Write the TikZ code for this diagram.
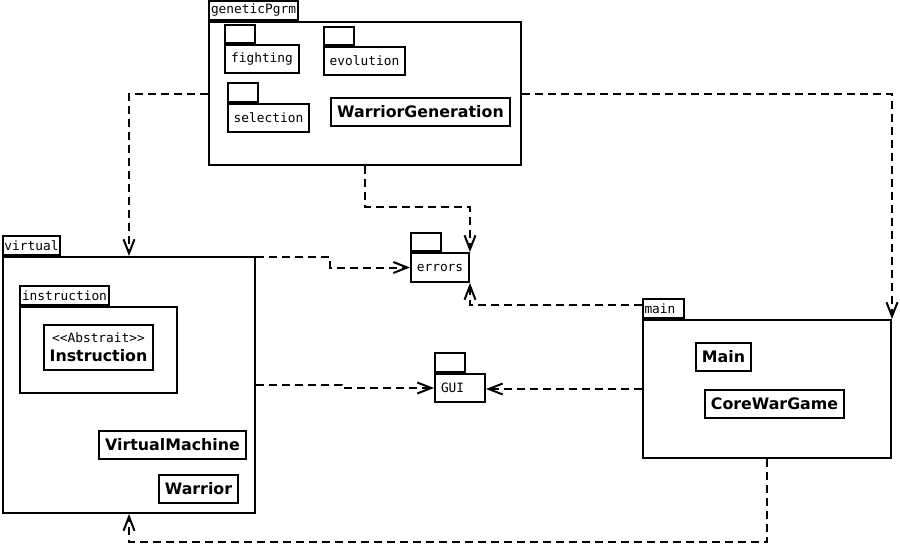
\documentclass[tikz,border=0pt]{standalone}
\usepackage{fontspec}
\usetikzlibrary{arrows.meta,positioning,calc}
\newfontfamily\monofont{DejaVu Sans Mono}[Ligatures=TeXOff]
\newfontfamily\clsfont{DejaVu Sans}
\def \mon {\monofont\mdseries\fontsize{7.3}{8.6}\selectfont}
\def \cls {\clsfont\bfseries\fontsize{9}{10.8}\selectfont}

\tikzset{
  wh/.style 2 args={minimum width=#1*0.2mm, minimum height=#2*0.2mm},
  pkg/.style={draw, line width=0.4mm, inner sep=0pt, anchor=north west},
  tab/.style={draw, line width=0.4mm, inner xsep=0.3mm, inner ysep=0pt,
    minimum height=3.8mm, anchor=south west, font=\mon},
  cls/.style={draw, line width=0.4mm, inner sep=0pt, anchor=north west, font=\cls},
  dep/.style={line width=0.4mm, dash pattern=on 1.6mm off 1mm,
    -{Straight Barb[length=2.8mm, width=2.2mm]}},
}

\begin{document}
\begin{tikzpicture}[x=0.2mm, y=-0.2mm]
        \useasboundingbox (0,0) rectangle (900,559);

        % geneticPgrm
        \node[pkg, wh={312}{143}] (genetic) at (208,21) {};
        \node[tab, wh={89}{19}] (genetictab) at (genetic.north west) {\mon geneticPgrm};

        \node[pkg, wh={74}{28}, font=\mon] (fighting) at (224,44) {fighting};
        \node[tab, wh={30}{18}] (fightingtab) at (fighting.north west) {};

        \node[pkg, wh={81}{28}, font=\mon] (evolution) at (323,46) {evolution};
        \node[tab, wh={30}{18}] (evolutiontab) at (evolution.north west) {};

        \node[pkg, wh={81}{28}, font=\mon] (selection) at (227,103) {selection};
        \node[tab, wh={30}{19}] (selectiontab) at (selection.north west) {};

        \node[cls, wh={179}{28}] (warriorgen) at (330,97) {WarriorGeneration};

        % virtual
        \node[pkg, wh={252}{256}] (virtual) at (2,256) {};
        \node[tab, wh={57}{19}] (virtualtab) at (virtual.north west) {virtual};

        \node[pkg, wh={157}{86}] (instruction) at (19,306) {};
        \node[tab, wh={89}{19}] (instructiontab) at (instruction.north west) {instruction};
        \node[cls, wh={109}{45}, align=center] (instr) at (43,324)
            {{\mon <<Abstrait>>}\\Instruction};

        \node[cls, wh={147}{28}] (vm) at (98,430) {VirtualMachine};
        \node[cls, wh={79}{28}] (warrior) at (158,474) {Warrior};

        % errors and GUI
        \node[pkg, wh={58}{29}, font=\mon] (errors) at (410,252) {errors};
        \node[tab, wh={30}{18}] (errorstab) at (errors.north west) {};

        \node[pkg, wh={50}{28}, font=\mon, text width=7.6mm, inner xsep=1.2mm,
            align=left] (gui) at (434,373) {GUI};
        \node[tab, wh={30}{19}] (guitab) at (gui.north west) {};

        % main
        \node[pkg, wh={248}{138}] (main) at (642,319) {};
        \node[tab, wh={40}{19}, text width=7.5mm, align=left] (maintab) at (main.north west) {main};

        \node[cls, wh={55}{28}] (mainc) at (695,342) {Main};
        \node[cls, wh={139}{28}] (corewar) at (704,389) {CoreWarGame};

        % Dependencies
        % geneticPgrm -> virtual
        \draw[dep] (genetic.west) -| (virtual.north);

        % geneticPgrm -> main
        \draw[dep] (genetic.east) -| (main.north east);

        % geneticPgrm -> errors
        \draw[dep] (genetic.south) -- ++(0,41) -| (errors.north east);

        % virtual -> errors
        \draw[dep] ($(virtual.north east)+(0,1)$) -- ++(74,0) |- (errors.west);

        % main -> errors
        \draw[dep] ($(maintab.south west)+(0,-14)$) -| (errors.south east);

        % virtual -> GUI
        \draw[dep] (virtual.east) -- ++(86,0) |- (gui.west);

        % main -> GUI
        \draw[dep] (main.west) -- (main.west -| gui.east);

        % main -> virtual
        \draw[dep] (main.south) -- ++(0,83) -| (virtual.south);

    \end{tikzpicture}
\end{document}
